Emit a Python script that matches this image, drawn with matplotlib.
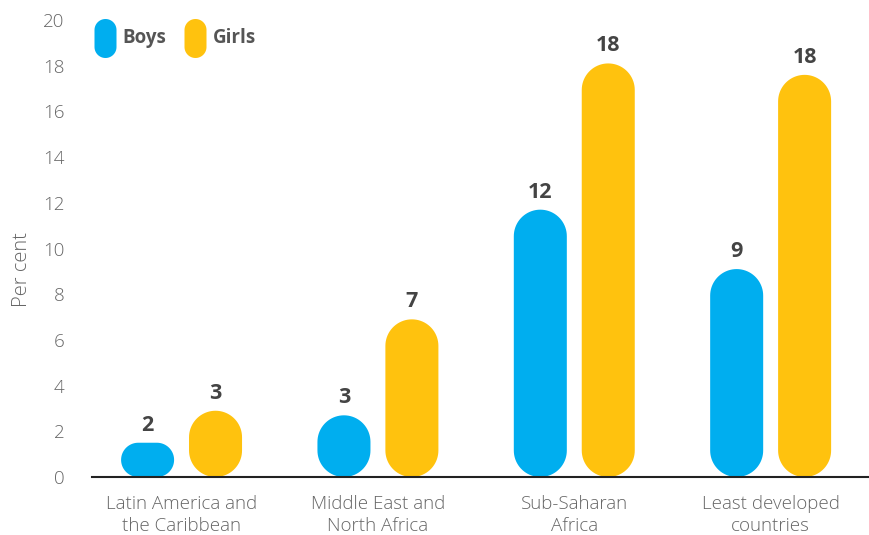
import matplotlib
matplotlib.use("Agg")
import numpy as np
import matplotlib.pyplot as plt
from matplotlib.patches import Polygon

plt.rcParams['font.family'] = ['Open Sans', 'DejaVu Sans']

# datos
regiones = ["Latin America and\nthe Caribbean", "Middle East and\nNorth Africa",
            "Sub-Saharan\nAfrica", "Least developed\ncountries"]
boys = [1.5, 2.7, 11.7, 9.1]
girls = [2.9, 6.9, 18.1, 17.6]
boys_lbl = ["2", "3", "12", "9"]
girls_lbl = ["3", "7", "18", "18"]

azul = '#00AEEF'
amarillo = '#FFC20E'
gris = '#666666'
oscuro = '#444444'

fig = plt.figure(figsize=(8.7, 5.35), dpi=100)
ax = fig.add_axes([0.106, 0.1084, 0.894, 0.8542])
ax.set_xlim(-0.455, 3.506)
ax.set_ylim(0, 20)

ancho = 0.27
desp = 0.173
fig.canvas.draw()
p0 = ax.transData.transform((0, 0))
p1 = ax.transData.transform((1, 1))
ux = 1 / (p1[0] - p0[0])   # unidades x por pixel
uy = 1 / (p1[1] - p0[1])   # unidades y por pixel

def pildora(x0, y0, w, h, ux, uy):
    # rectangulo con esquinas de cuarto de circulo (radio en pixeles)
    r = min(w / ux / 2, h / uy / 2)
    rx, ry = r * ux, r * uy
    x1, y1 = x0 + w, y0 + h
    t = np.linspace(0, np.pi / 2, 20)
    pts = []
    for cx, cy, a0 in [(x1 - rx, y1 - ry, 0), (x0 + rx, y1 - ry, np.pi / 2),
                       (x0 + rx, y0 + ry, np.pi), (x1 - rx, y0 + ry, 1.5 * np.pi)]:
        pts += list(zip(cx + rx * np.cos(a0 + t), cy + ry * np.sin(a0 + t)))
    return pts

def barra(x, h, color):
    ax.add_patch(Polygon(pildora(x - ancho / 2, 0, ancho, h, ux, uy),
                         closed=True, fc=color, ec='none'))

for i in range(len(regiones)):
    barra(i - desp, boys[i], azul)
    barra(i + desp, girls[i], amarillo)
    ax.annotate(boys_lbl[i], (i - desp, boys[i]), xytext=(0, 5),
                textcoords='offset points', ha='center', va='bottom',
                fontsize=15.5, fontweight='bold', color=oscuro)
    ax.annotate(girls_lbl[i], (i + desp, girls[i]), xytext=(0, 5),
                textcoords='offset points', ha='center', va='bottom',
                fontsize=15.5, fontweight='bold', color=oscuro)

ax.set_xticks(range(len(regiones)))
ax.set_xticklabels(regiones, fontsize=13.5, color=gris, linespacing=1.25,
                   fontweight='light')
ax.tick_params(axis='x', length=0, pad=13)
ax.set_yticks(range(0, 21, 2))
ax.set_yticklabels([str(v) for v in range(0, 21, 2)], fontweight='light')
ax.tick_params(axis='y', length=0, labelsize=13.5, labelcolor=gris, pad=20)
ax.set_ylabel("Per cent", fontsize=14.5, color=gris, fontweight='light')
ax.yaxis.set_label_coords(-0.078, 0.455)
for s in ['top', 'right', 'left']:
    ax.spines[s].set_visible(False)
ax.spines['bottom'].set_color('#222222')
ax.spines['bottom'].set_linewidth(1.5)

# leyenda hecha a mano (en pulgadas desde abajo a la izquierda)
H = 5.35
for x0, col, txt in [(0.945, azul, "Boys"), (1.845, amarillo, "Girls")]:
    fig.add_artist(Polygon(pildora(x0, H - 0.58, 0.22, 0.39, 0.01, 0.01),
                           closed=True, fc=col, ec='none',
                           transform=fig.dpi_scale_trans))
    fig.text(x0 + 0.28, H - 0.375, txt, transform=fig.dpi_scale_trans,
             fontsize=13.5, fontweight='bold', color='#555555', va='center')

fig.savefig("out.png", dpi=100)
